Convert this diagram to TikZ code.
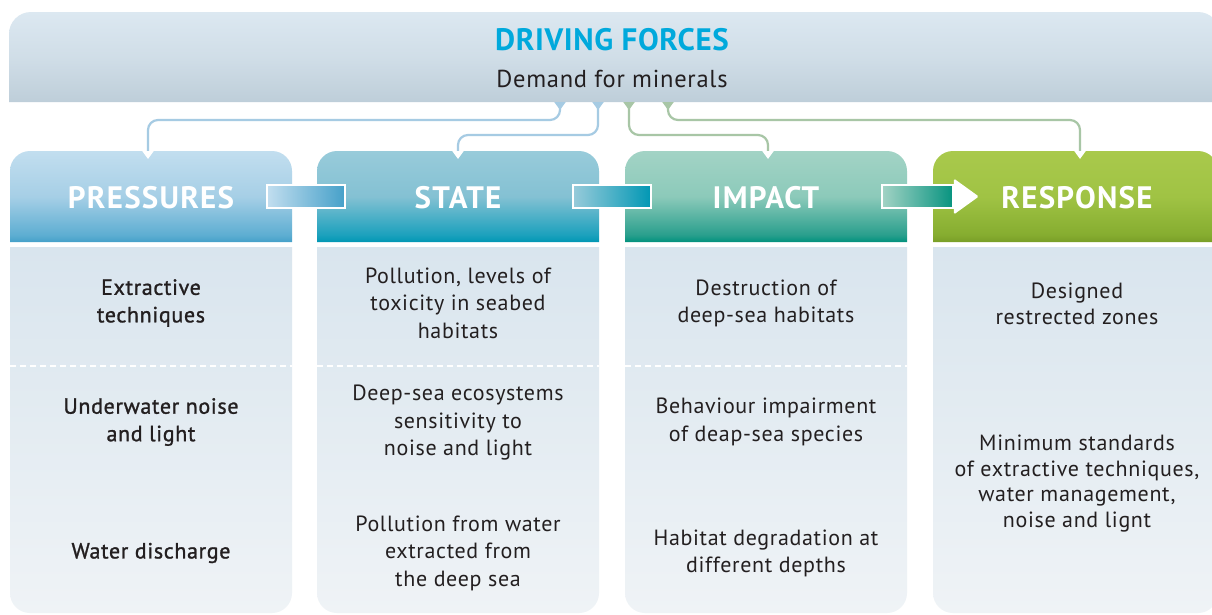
\documentclass[tikz,border=0pt]{standalone}
\usepackage{fontspec}
\setmainfont{PT Sans}
\usetikzlibrary{arrows.meta,calc}
\definecolor{bannerT}{HTML}{DCE8F1}
\definecolor{bannerB}{HTML}{BECED9}
\definecolor{titlecol}{HTML}{00A9DC}
\definecolor{txt}{HTML}{231F20}
\definecolor{bodyT}{HTML}{D9E5EE}
\definecolor{bodyB}{HTML}{EFF3F6}
\definecolor{lineblue}{HTML}{A6CBE3}
\definecolor{linegreen}{HTML}{A8C6A6}
\definecolor{pT}{HTML}{C2DEEF}
\definecolor{pM}{HTML}{A6CFE6}
\definecolor{pL}{HTML}{5EAED2}
\definecolor{pB}{HTML}{45A0C9}
\definecolor{sT}{HTML}{98CBDA}
\definecolor{sM}{HTML}{84C1D3}
\definecolor{sL}{HTML}{1CA1BD}
\definecolor{sB}{HTML}{0097B4}
\definecolor{iT}{HTML}{A3D3C5}
\definecolor{iM}{HTML}{8CCABA}
\definecolor{iL}{HTML}{2A9F8D}
\definecolor{iB}{HTML}{00917D}
\definecolor{rT}{HTML}{A9C94C}
\definecolor{rM}{HTML}{A0C344}
\definecolor{rL}{HTML}{86AD30}
\definecolor{rB}{HTML}{789E27}
\pgfdeclareverticalshading{presshade}{100bp}{color(0bp)=(pB); color(25bp)=(pB); color(29bp)=(pL); color(50bp)=(pM); color(75bp)=(pT); color(100bp)=(pT)}
\pgfdeclareverticalshading{stateshade}{100bp}{color(0bp)=(sB); color(25bp)=(sB); color(29bp)=(sL); color(50bp)=(sM); color(75bp)=(sT); color(100bp)=(sT)}
\pgfdeclareverticalshading{impactshade}{100bp}{color(0bp)=(iB); color(25bp)=(iB); color(29bp)=(iL); color(50bp)=(iM); color(75bp)=(iT); color(100bp)=(iT)}
\pgfdeclareverticalshading{respshade}{100bp}{color(0bp)=(rB); color(25bp)=(rB); color(29bp)=(rL); color(50bp)=(rM); color(75bp)=(rT); color(100bp)=(rT)}
\begin{document}
\begin{tikzpicture}[x=1pt,y=-1pt,
  conn/.style={line width=2.2pt, rounded corners=10pt,
    {Triangle[reversed,width=11pt,length=8pt]}-{Triangle[width=11pt,length=8pt,color=white]}},
  headtext/.style={text=white, font=\fontsize{31}{33}\selectfont\bfseries\addfontfeature{LetterSpace=4}},
  bodytext/.style={text=txt, align=center, font=\fontsize{22}{27.5}\selectfont\addfontfeature{LetterSpace=3}},
  presstext/.style={bodytext, font=\fontsize{22}{27.5}\selectfont\addfontfeature{LetterSpace=3,FakeBold=1.2}},
  resptext/.style={bodytext, font=\fontsize{22}{25.7}\selectfont\addfontfeature{LetterSpace=3}},
  hbar/.style={draw=white, line width=1.6pt, minimum height=23pt, inner sep=0pt},
  sep/.style={white, line width=2.2pt, dash pattern=on 6pt off 4pt}]
\useasboundingbox (0,0) rectangle (1212,614);
\fill[white] (0,0) rectangle (1212,614);
% banner
\shade[top color=bannerT, bottom color=bannerB, middle color=bannerT!60!bannerB]
  (9,102) [rounded corners=22pt] -- (9,12) -- (1220,12) [sharp corners] -- (1220,102) -- cycle;
\node[text=titlecol, font=\fontsize{31}{33}\selectfont\bfseries\addfontfeature{LetterSpace=2}] (title) at (612,40) {DRIVING FORCES};
\node[text=txt, font=\fontsize{24.5}{27}\selectfont\addfontfeature{LetterSpace=3}] (demand) at (612,79) {Demand for minerals};
% body panels
\foreach \xa/\xb in {10/292, 317/599, 625/907, 933/1218}{
  \shade[top color=bodyT, bottom color=bodyB]
    (\xa,247) [rounded corners=20pt] -- (\xa,613) -- (\xb,613) [sharp corners] -- (\xb,247) -- cycle;
}
\foreach \xa/\xb in {10/292, 317/599, 625/907}{
  \draw[sep] (\xa,366) -- (\xb,366);
}
% headers
\shade[shading=presshade] (10,242) [rounded corners=20pt] -- (10,151) -- (292,151) [sharp corners] -- (292,242) -- cycle;
\shade[shading=stateshade] (317,242) [rounded corners=20pt] -- (317,151) -- (599,151) [sharp corners] -- (599,242) -- cycle;
\shade[shading=impactshade] (625,242) [rounded corners=20pt] -- (625,151) -- (907,151) [sharp corners] -- (907,242) -- cycle;
\shade[shading=respshade] (933,242) [rounded corners=20pt] -- (933,151) -- (1218,151) [sharp corners] -- (1218,242) -- cycle;
\node[headtext] (pres) at (151,198) {PRESSURES};
\node[headtext] (state) at (458,198) {STATE};
\node[headtext] (impact) at (766,198) {IMPACT};
\node[headtext] (resp) at (1077,198) {RESPONSE};
% header links
\node[hbar, minimum width=78pt, left color=pT, right color=pB] (bar1) at (306,196.5) {};
\node[hbar, minimum width=78pt, left color=sT, right color=sB] (bar2) at (612,196.5) {};
\node[hbar, minimum width=71pt, left color=iT, right color=iB!85!iL] (bar3) at (917.5,196.5) {};
\fill[white, rounded corners=1.5pt] ($(bar3.east)+(0,-18)$) -- ($(bar3.east)+(25,0)$) -- ($(bar3.east)+(0,18)$) -- cycle;
% connectors from driving forces
\coordinate (d1) at (560,102);
\coordinate (d2) at (598,102);
\coordinate (d3) at (629,102);
\coordinate (d4) at (668,102);
\coordinate (laneA) at (0,120);
\coordinate (laneB) at (0,135);
\coordinate (pTop) at (148,159);
\coordinate (sTop) at (458,159);
\coordinate (iTop) at (768,159);
\coordinate (rTop) at (1080,159);
\draw[conn, lineblue] (d1) -- (d1 |- laneA) -| (pTop);
\draw[conn, lineblue] (d2) -- (d2 |- laneB) -| (sTop);
\draw[conn, linegreen] (d3) -- (d3 |- laneB) -| (iTop);
\draw[conn, linegreen] (d4) -- (d4 |- laneA) -| (rTop);
% body texts
\node[presstext] (p1) at (151,303) {Extractive\\techniques};
\node[presstext] (p2) at (151,422) {Underwater noise\\and light};
\node[presstext] (p3) at (151,553) {Water discharge};
\node[bodytext] (s1) at (458,303) {Pollution, levels of\\toxicity in seabed\\habitats};
\node[bodytext] (s2) at (458,423) {Deep-sea ecosystems\\sensitivity to\\noise and light};
\node[bodytext] (s3) at (458,553) {Pollution from water\\extracted from\\the deep sea};
\node[bodytext] (i1) at (766,303.5) {Destruction of\\deep-sea habitats};
\node[bodytext] (i2) at (766,422) {Behaviour impairment\\of deap-sea species};
\node[bodytext] (i3) at (766,553.5) {Habitat degradation at\\different depths};
\node[resptext] (r1) at (1077,304) {Designed\\restrected zones};
\node[resptext] (r2) at (1077,483.5) {Minimum standards\\of extractive techniques,\\water management,\\noise and lignt};
\end{tikzpicture}
\end{document}
